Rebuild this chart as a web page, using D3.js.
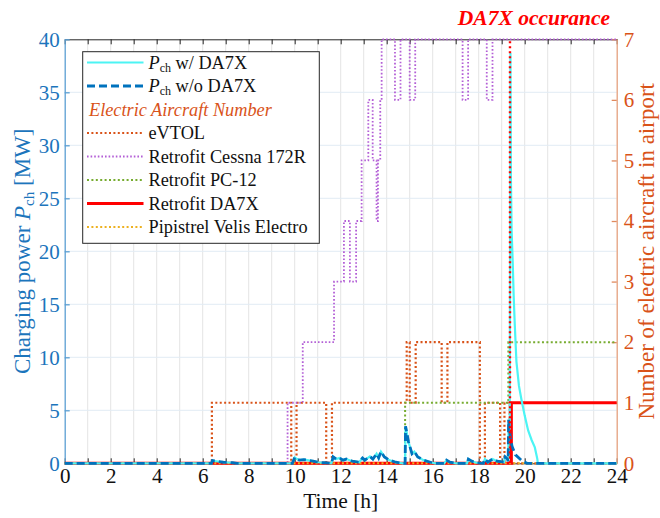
<!DOCTYPE html>
<html>
<head>
<meta charset="utf-8">
<script src="https://cdn.jsdelivr.net/npm/d3@7"></script>
<style>
  body { margin: 0; background: #fff; }
  text { font-family: "Liberation Serif", "Times New Roman", serif; }
</style>
</head>
<body>
<svg id="chart" width="660" height="518"></svg>
<script>
// tick labels
const hourTicks = [0, 2, 4, 6, 8, 10, 12, 14, 16, 18, 20, 22, 24];
const powerTicks = [0, 5, 10, 15, 20, 25, 30, 35, 40];
const countTicks = [0, 1, 2, 3, 4, 5, 6, 7];

// charging power [h, MW], shared part before the DA7X arrival
const pBase = [
  [0, 0], [6.38, 0], [6.42, 0.25], [6.9, 0.1], [7.3, 0.05], [7.5, 0], [9.9, 0],
  [10.0, 0.55], [10.1, 0.4], [10.2, 0.3], [10.4, 0.35], [10.8, 0.2], [11.0, 0.1],
  [11.3, 0.05], [11.6, 0], [11.67, 0.6], [11.8, 0.4], [11.95, 0.5], [12.1, 0.3],
  [12.25, 0.4], [12.5, 0.2], [12.8, 0.1], [12.95, 0.5], [13.05, 0.3], [13.27, 0.65],
  [13.4, 0.4], [13.56, 0.9], [13.65, 0.5], [13.75, 1.1], [13.9, 0.6], [14.1, 0.3],
  [14.4, 0.1], [14.7, 0], [14.8, 0], [14.82, 3.5], [14.95, 2], [15.1, 0.9],
  [15.2, 1.1], [15.35, 0.6], [15.6, 0.3], [15.9, 0.1], [16.1, 0], [16.5, 0],
  [16.6, 0.3], [16.75, 0.1], [17.0, 0], [17.5, 0], [17.55, 0.4], [17.7, 0.2],
  [17.9, 0.05], [18.2, 0], [18.27, 0.4], [18.4, 0.1], [18.6, 0.4], [18.8, 0.2],
  [19.1, 0.1], [19.15, 0.6], [19.25, 0.4], [19.28, 0.2]
];
const pTailWithout = [
  [19.3, 4.1], [19.37, 2.5], [19.45, 1.6], [19.6, 0.8], [19.85, 0.3], [20.1, 0], [24, 0]
];
const pTailWith = [
  [19.3, 4.1], [19.35, 3.2], [19.38, 38.7], [19.40, 27], [19.43, 22], [19.48, 18.9],
  [19.52, 15.8], [19.57, 13], [19.64, 9.6], [19.75, 7.3], [19.86, 6.0], [20.0, 4.5],
  [20.15, 3.1], [20.3, 2.2], [20.44, 1.5], [20.5, 0.9], [20.55, 0.4], [20.57, 0], [24, 0]
];
const pWithDA7X = pBase.concat(pTailWith);
const pWithoutDA7X = pBase.concat(pTailWithout);

// number of aircraft in airport, change points [h, count]
const evtol = [
  [0, 0], [6.4, 1], [9.85, 0], [10.08, 1], [11.37, 0], [11.62, 1], [14.87, 2], [15.0, 1],
  [15.26, 2], [16.39, 1], [16.64, 2], [18.05, 0], [18.27, 1], [18.93, 0], [19.12, 1],
  [19.35, 0], [24, 0]
];
const cessna = [
  [0, 0], [9.69, 1], [10.35, 2], [11.71, 3], [12.14, 4], [12.4, 3], [12.67, 4], [12.91, 5],
  [13.2, 6], [13.39, 5], [13.56, 4], [13.62, 5], [13.72, 6], [13.78, 7], [14.36, 6],
  [14.6, 7], [15.0, 6], [15.24, 7], [17.3, 6], [17.54, 7], [18.35, 6], [18.6, 7], [24, 7]
];
const pc12 = [[0, 0], [14.8, 1], [19.29, 2], [24, 2]];
const da7x = [[0, 0], [19.42, 1], [24, 1]];
const pipistrel = [[0, 0], [24, 0]];
const da7xOccurrence = 19.36;

const blue = "#0072BD", orange = "#D95319";
const serif = "Liberation Serif, Times New Roman, serif";

const svg = d3.select("#chart");
const x = d3.scaleLinear().domain([0, 24]).range([64.7, 616.7]);
const yL = d3.scaleLinear().domain([0, 40]).range([463.3, 39.3]);
const yR = d3.scaleLinear().domain([0, 7]).range([463.3, 39.3]);

// grid
svg.append("g").selectAll("line")
  .data(d3.range(1, 24))
  .enter().append("line")
  .attr("x1", d => x(d)).attr("x2", d => x(d))
  .attr("y1", yL(0)).attr("y2", yL(40))
  .attr("stroke", "#e4e4e4").attr("stroke-width", 1);
svg.append("g").selectAll("line")
  .data(powerTicks.slice(1, -1))
  .enter().append("line")
  .attr("x1", x(0)).attr("x2", x(24))
  .attr("y1", d => yL(d)).attr("y2", d => yL(d))
  .attr("stroke", "#e2ecf4").attr("stroke-width", 1);

// axes
const xAxisBottom = svg.append("g")
  .attr("transform", `translate(0,${yL(0)})`)
  .call(d3.axisBottom(x).tickValues(d3.range(0, 25))
    .tickFormat(d => hourTicks.includes(d) ? d : "")
    .tickSizeInner(-5).tickSizeOuter(0).tickPadding(5));
const xAxisTop = svg.append("g")
  .attr("transform", `translate(0,${yL(40)})`)
  .call(d3.axisTop(x).tickValues(d3.range(0, 25)).tickFormat("")
    .tickSizeInner(-5).tickSizeOuter(0));
[xAxisBottom, xAxisTop].forEach(g => {
  g.attr("font-family", serif).attr("font-size", 21);
  g.select(".domain").attr("stroke", "#262626");
  g.selectAll(".tick line").attr("stroke", "#262626");
  g.selectAll("text").attr("fill", "#111");
});

const yAxisLeft = svg.append("g")
  .attr("transform", `translate(${x(0)},0)`)
  .call(d3.axisLeft(yL).tickValues(powerTicks).tickFormat(d3.format("d"))
    .tickSizeInner(-5).tickSizeOuter(0).tickPadding(5))
  .attr("font-family", serif).attr("font-size", 21);
yAxisLeft.select(".domain").attr("stroke", "#5b9fd3").attr("stroke-width", 1.3);
yAxisLeft.selectAll(".tick line").attr("stroke", "#5b9fd3").attr("stroke-width", 1.3);
yAxisLeft.selectAll("text").attr("fill", "#1c75bc");

const yAxisRight = svg.append("g")
  .attr("transform", `translate(${x(24)},0)`)
  .call(d3.axisRight(yR).tickValues(countTicks).tickFormat(d3.format("d"))
    .tickSizeInner(-5).tickSizeOuter(0).tickPadding(7))
  .attr("font-family", serif).attr("font-size", 21);
yAxisRight.select(".domain").attr("stroke", "#e4a07e").attr("stroke-width", 1.3);
yAxisRight.selectAll(".tick line").attr("stroke", "#e08a5e").attr("stroke-width", 1.3);
yAxisRight.selectAll("text").attr("fill", orange);

// aircraft count steps (right axis)
const stepLine = d3.line().x(d => x(d[0])).y(d => yR(d[1])).curve(d3.curveStepAfter);
const steps = [
  { data: evtol, color: orange, dash: "2,2.4", width: 2.2 },
  { data: cessna, color: "#b35fd6", dash: "1.6,2", width: 1.8 },
  { data: pc12, color: "#77AC30", dash: "2,2.4", width: 2 },
  { data: da7x, color: "#ff0000", dash: null, width: 3 },
  { data: pipistrel, color: "#EDB120", dash: "2,2.4", width: 2 }
];
steps.forEach(s => {
  svg.append("path")
    .datum(s.data)
    .attr("d", stepLine)
    .attr("fill", "none")
    .attr("stroke", s.color)
    .attr("stroke-width", s.width)
    .attr("stroke-dasharray", s.dash);
});

// charging power (left axis)
const powerLine = d3.line().x(d => x(d[0])).y(d => yL(d[1]));
svg.append("path")
  .datum(pWithDA7X)
  .attr("d", powerLine)
  .attr("fill", "none")
  .attr("stroke", "#4cf4f4")
  .attr("stroke-width", 2.2);
svg.append("path")
  .datum(pWithoutDA7X)
  .attr("d", powerLine)
  .attr("fill", "none")
  .attr("stroke", blue)
  .attr("stroke-width", 2.8)
  .attr("stroke-dasharray", "8,4");

// DA7X occurance marker
svg.append("line")
  .attr("x1", x(da7xOccurrence)).attr("x2", x(da7xOccurrence))
  .attr("y1", yR(0)).attr("y2", yR(7))
  .attr("stroke", "#ff0000")
  .attr("stroke-width", 2.4)
  .attr("stroke-dasharray", "2,3");
svg.append("text")
  .attr("x", 534).attr("y", 25)
  .attr("text-anchor", "middle")
  .attr("fill", "#ff0000")
  .style("font-size", "21.5px")
  .style("font-weight", "bold")
  .style("font-style", "italic")
  .text("DA7X occurance");

// axis titles
svg.append("text")
  .attr("x", x(12)).attr("y", 508)
  .attr("text-anchor", "middle")
  .attr("fill", "#111")
  .style("font-size", "21.5px")
  .text("Time [h]");

const yTitle = svg.append("text")
  .attr("transform", `translate(30,${yL(20)}) rotate(-90)`)
  .attr("text-anchor", "middle")
  .attr("fill", "#1c75bc")
  .style("font-size", "23px");
yTitle.append("tspan").text("Charging power ");
yTitle.append("tspan").style("font-style", "italic").text("P");
yTitle.append("tspan").attr("dy", 4).style("font-size", "15px").text("ch");
yTitle.append("tspan").attr("dy", -4).text(" [MW]");

svg.append("text")
  .attr("transform", `translate(654,${yL(20)}) rotate(-90)`)
  .attr("text-anchor", "middle")
  .attr("fill", orange)
  .style("font-size", "23px")
  .text("Number of electric aircraft in airport");

// legend
const legendItems = [
  { label: "w/ DA7X", sub: true, color: "#4cf4f4", dash: null, width: 2.2 },
  { label: "w/o DA7X", sub: true, color: blue, dash: "8,4", width: 2.8 },
  { label: "Electric Aircraft Number", header: true },
  { label: "eVTOL", color: orange, dash: "2,2.4", width: 2.2 },
  { label: "Retrofit Cessna 172R", color: "#b35fd6", dash: "1.6,2", width: 1.8 },
  { label: "Retrofit PC-12", color: "#77AC30", dash: "2,2.4", width: 2 },
  { label: "Retrofit DA7X", color: "#ff0000", dash: null, width: 3 },
  { label: "Pipistrel Velis Electro", color: "#EDB120", dash: "2,2.4", width: 2 }
];
const legend = svg.append("g");
legend.append("rect")
  .attr("x", 82.7).attr("y", 51.7)
  .attr("width", 236.6).attr("height", 191.6)
  .attr("fill", "#fff")
  .attr("stroke", "#262626")
  .attr("stroke-width", 1);
legendItems.forEach((d, i) => {
  const cy = 62.5 + i * 23.5;
  if (d.header) {
    legend.append("text")
      .attr("x", 89).attr("y", cy + 6)
      .attr("fill", orange)
      .style("font-size", "18.3px")
      .style("font-style", "italic")
      .text(d.label);
    return;
  }
  legend.append("line")
    .attr("x1", 87).attr("x2", 143.5)
    .attr("y1", cy).attr("y2", cy)
    .attr("stroke", d.color)
    .attr("stroke-width", d.width)
    .attr("stroke-dasharray", d.dash);
  const t = legend.append("text")
    .attr("x", 148.5).attr("y", cy + 6)
    .attr("fill", "#111")
    .style("font-size", "18.3px");
  if (d.sub) {
    t.append("tspan").style("font-style", "italic").text("P");
    t.append("tspan").attr("dy", 3).style("font-size", "12px").text("ch");
    t.append("tspan").attr("dy", -3).text(" " + d.label);
  } else {
    t.text(d.label);
  }
});
</script>
</body>
</html>
